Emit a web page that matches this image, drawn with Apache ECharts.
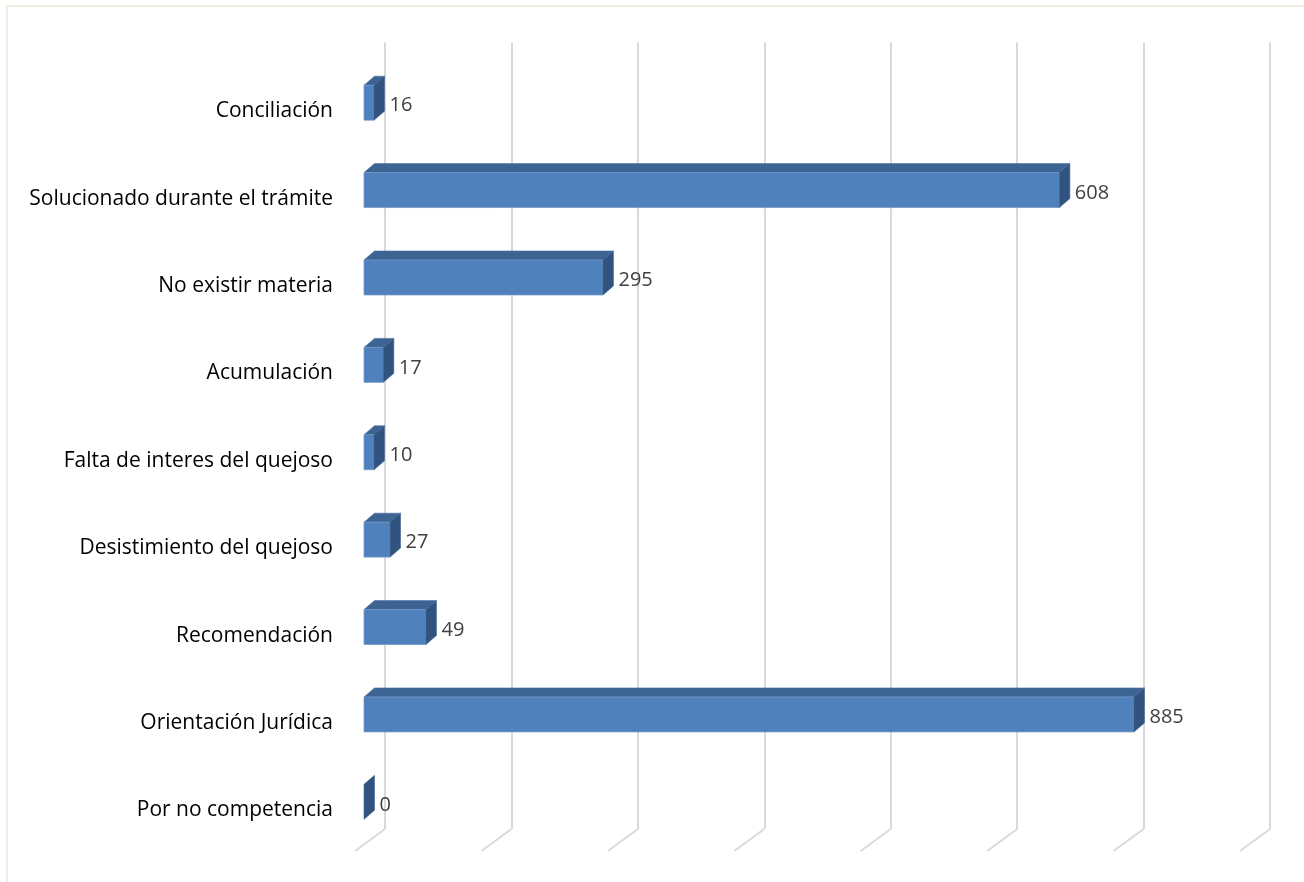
<!DOCTYPE html>
<html>
<head>
<meta charset="utf-8">
<script src="https://cdn.jsdelivr.net/npm/echarts@6/dist/echarts.min.js"></script>
<style>
html,body{margin:0;padding:0;background:#fff;}
#chart{width:1304px;height:882px;}
</style>
</head>
<body>
<div id="chart"></div>
<script>
// Categories, top to bottom
var categories = [
  'Conciliación',
  'Solucionado durante el trámite',
  'No existir materia',
  'Acumulación',
  'Falta de interes del quejoso',
  'Desistimiento del quejoso',
  'Recomendación',
  'Orientación Jurídica',
  'Por no competencia'
];
// Printed data labels
var labelValues = [16, 608, 295, 17, 10, 27, 49, 885, 0];
var barValues = [7.9, 550, 189, 15.3, 7.9, 20.6, 49, 609, 0];
// Value-axis gridline ticks
var axisTicks = [0, 100, 200, 300, 400, 500, 600, 700];

var chart = echarts.init(document.getElementById('chart'));

var FRONT_DX = -21, FRONT_DY = 16.5;   // front face offset from back wall
var DEPTH_DX = 10.5, DEPTH_DY = -9;    // bar depth vector
var FLOOR_DX = -30, FLOOR_DY = 22;     // floor depth vector

function renderBar(params, api) {
  var idx = api.value(1);
  var v = api.value(0);
  var p0 = api.coord([0, idx]);
  var p1 = api.coord([v, idx]);
  var band = api.size([0, 1])[1];
  var h = band * 0.40;
  var x0 = p0[0] + FRONT_DX, x1 = p1[0] + FRONT_DX;
  var yc = p0[1] + FRONT_DY;
  var yt = yc - h / 2, yb = yc + h / 2;
  var children = [];
  if (x1 - x0 > 0.01) {
    children.push({
      type: 'polygon',
      shape: {points: [[x0, yt], [x1, yt], [x1 + DEPTH_DX, yt + DEPTH_DY], [x0 + DEPTH_DX, yt + DEPTH_DY]]},
      style: {fill: '#3d6392', stroke: '#4a72a3', lineWidth: 0.6}
    });
    children.push({
      type: 'rect',
      shape: {x: x0, y: yt, width: x1 - x0, height: yb - yt},
      style: {fill: '#4f81bd', stroke: '#7399c9', lineWidth: 0.8}
    });
  }
  children.push({
    type: 'polygon',
    shape: {points: [[x1, yt], [x1 + DEPTH_DX, yt + DEPTH_DY], [x1 + DEPTH_DX, yb + DEPTH_DY], [x1, yb]]},
    style: {fill: '#30537f', stroke: '#3f6491', lineWidth: 0.6}
  });
  children.push({
    type: 'text',
    style: {
      x: x1 + DEPTH_DX + 5,
      y: yc + 3,
      text: String(labelValues[api.value(2)]),
      fill: '#404040',
      font: '20px "Open Sans", sans-serif',
      verticalAlign: 'middle',
      align: 'left'
    }
  });
  // category label at the front edge of the floor
  children.push({
    type: 'text',
    style: {
      x: p0[0] - 52,
      y: p0[1] + 25,
      text: categories[api.value(2)],
      fill: '#000000',
      font: '21px "Open Sans", sans-serif',
      verticalAlign: 'middle',
      align: 'right'
    }
  });
  return {type: 'group', children: children};
}

function renderFloor(params, api) {
  var cs = params.coordSys;
  var p = api.coord([api.value(0), 0]);
  var yB = cs.y + cs.height;
  return {
    type: 'line',
    shape: {x1: p[0], y1: yB, x2: p[0] + FLOOR_DX, y2: yB + FLOOR_DY},
    style: {stroke: '#d9d9d9', lineWidth: 2}
  };
}

var barData = barValues.map(function (v, i) { return [v, i, i]; });
var floorData = axisTicks.map(function (t) { return [t, 0]; });

chart.setOption({
  animation: false,
  backgroundColor: '#ffffff',
  graphic: [{
    type: 'rect',
    shape: {x: 7, y: 6, width: 1400, height: 1000},
    style: {fill: 'none', stroke: '#f0ede3', lineWidth: 2},
    silent: true
  }],
  grid: {left: 385, right: 34, top: 42.5, bottom: 53},
  xAxis: {
    type: 'value',
    min: 0, max: 700, interval: 100,
    axisLabel: {show: false},
    axisLine: {show: false},
    axisTick: {show: false},
    splitLine: {show: true, lineStyle: {color: '#d9d9d9', width: 2}}
  },
  yAxis: {
    type: 'category',
    inverse: true,
    data: categories,
    axisLine: {show: false},
    axisTick: {show: false},
    splitLine: {show: false},
    axisLabel: {show: false}
  },
  series: [
    {type: 'custom', renderItem: renderFloor, data: floorData, silent: true, clip: false, z: 1},
    {type: 'custom', renderItem: renderBar, data: barData, encode: {x: 0, y: 1}, clip: false, z: 2}
  ]
});
</script>
</body>
</html>
